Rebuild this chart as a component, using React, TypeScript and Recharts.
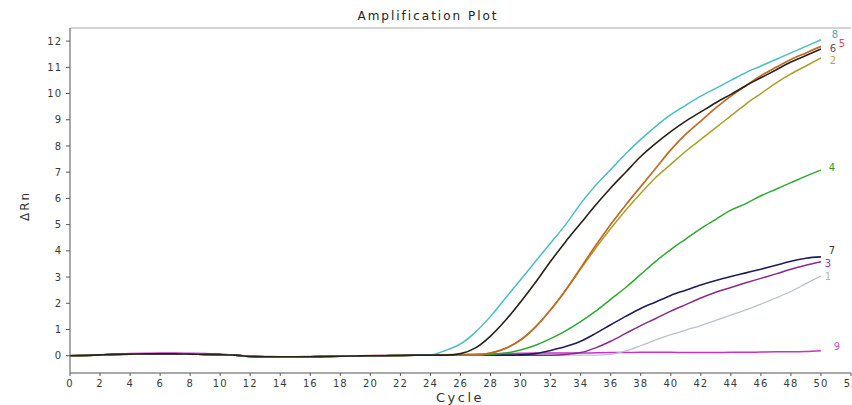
import React from 'react';
import { LineChart, Line, XAxis, YAxis, ReferenceLine } from 'recharts';

const cycles = [
  0, 1, 2, 3, 4, 5, 6, 7, 8, 9, 10, 11, 12, 13, 14, 15, 16, 17, 18, 19, 20, 21, 22, 23, 24, 25,
  26, 27, 28, 29, 30, 31, 32, 33, 34, 35, 36, 37, 38, 39, 40, 41, 42, 43, 44, 45, 46, 47, 48, 49, 50,
];

const well1 = [
  0, 0.01, 0.03, 0.05, 0.06, 0.07, 0.07, 0.07, 0.06, 0.05, 0.04, 0.02, -0.03, -0.04, -0.04, -0.04, -0.04, -0.03, -0.02, -0.01, 0, 0, 0.01, 0.02, 0.02, 0.02,
  0.02, 0.02, 0.02, 0.02, 0.02, 0.02, 0.02, 0.02, 0.02, 0.02, 0.05, 0.18, 0.38, 0.6, 0.8, 0.98, 1.15, 1.35, 1.55, 1.75, 1.97, 2.2, 2.45, 2.75, 3.04,
];
const well2 = [
  0, 0.01, 0.03, 0.05, 0.06, 0.07, 0.07, 0.07, 0.06, 0.05, 0.04, 0.02, -0.03, -0.04, -0.04, -0.04, -0.04, -0.03, -0.02, -0.01, 0, 0, 0.01, 0.02, 0.02, 0.02,
  0.02, 0.03, 0.1, 0.28, 0.6, 1.1, 1.75, 2.5, 3.3, 4.1, 4.85, 5.55, 6.2, 6.8, 7.3, 7.8, 8.25, 8.7, 9.15, 9.6, 10.0, 10.4, 10.75, 11.05, 11.36,
];
const well3 = [
  0, 0.01, 0.03, 0.05, 0.06, 0.07, 0.07, 0.07, 0.06, 0.05, 0.04, 0.02, -0.03, -0.04, -0.04, -0.04, -0.04, -0.03, -0.02, -0.01, 0, 0, 0.01, 0.02, 0.02, 0.02,
  0.02, 0.02, 0.02, 0.02, 0.02, 0.02, 0.02, 0.05, 0.12, 0.3, 0.55, 0.85, 1.15, 1.42, 1.7, 1.95, 2.2, 2.42, 2.6, 2.78, 2.95, 3.12, 3.3, 3.45, 3.58,
];
const well4 = [
  0, 0.01, 0.03, 0.05, 0.06, 0.07, 0.07, 0.07, 0.06, 0.05, 0.04, 0.02, -0.03, -0.04, -0.04, -0.04, -0.04, -0.03, -0.02, -0.01, 0, 0, 0.01, 0.02, 0.02, 0.02,
  0.02, 0.02, 0.05, 0.1, 0.22, 0.4, 0.65, 0.95, 1.3, 1.7, 2.15, 2.6, 3.1, 3.6, 4.05, 4.45, 4.85, 5.2, 5.55, 5.8, 6.1, 6.35, 6.6, 6.85, 7.08,
];
const well5 = [
  0, 0.01, 0.03, 0.05, 0.06, 0.07, 0.07, 0.07, 0.06, 0.05, 0.04, 0.02, -0.03, -0.04, -0.04, -0.04, -0.04, -0.03, -0.02, -0.01, 0, 0, 0.01, 0.02, 0.02, 0.02,
  0.02, 0.03, 0.1, 0.28, 0.6, 1.1, 1.75, 2.5, 3.35, 4.2, 5.0, 5.75, 6.45, 7.15, 7.85, 8.45, 8.95, 9.45, 9.9, 10.3, 10.68, 11.0, 11.3, 11.55, 11.8,
];
const well6 = [
  0, 0.01, 0.03, 0.05, 0.06, 0.07, 0.07, 0.07, 0.06, 0.05, 0.04, 0.02, -0.03, -0.04, -0.04, -0.04, -0.04, -0.03, -0.02, -0.01, 0, 0, 0.01, 0.02, 0.02, 0.02,
  0.08, 0.3, 0.75, 1.35, 2.05, 2.8, 3.6, 4.35, 5.05, 5.75, 6.4, 7.0, 7.6, 8.1, 8.55, 8.95, 9.3, 9.65, 9.97, 10.3, 10.6, 10.9, 11.2, 11.45, 11.7,
];
const well7 = [
  0, 0.01, 0.03, 0.05, 0.06, 0.07, 0.07, 0.07, 0.06, 0.05, 0.04, 0.02, -0.03, -0.04, -0.04, -0.04, -0.04, -0.03, -0.02, -0.01, 0, 0, 0.01, 0.02, 0.02, 0.02,
  0.02, 0.02, 0.02, 0.02, 0.03, 0.08, 0.2, 0.35, 0.55, 0.85, 1.18, 1.5, 1.8, 2.05, 2.3, 2.5, 2.7, 2.87, 3.02, 3.16, 3.3, 3.45, 3.6, 3.72, 3.77,
];
const well8 = [
  0, 0.01, 0.03, 0.05, 0.06, 0.07, 0.07, 0.07, 0.06, 0.05, 0.04, 0.02, -0.03, -0.04, -0.04, -0.04, -0.04, -0.03, -0.02, -0.01, 0, 0, 0.01, 0.02, 0.03, 0.2,
  0.45, 0.9, 1.5, 2.2, 2.9, 3.6, 4.3, 5.0, 5.8, 6.5, 7.1, 7.7, 8.25, 8.75, 9.2, 9.55, 9.9, 10.2, 10.5, 10.8, 11.05, 11.3, 11.55, 11.8, 12.05,
];
const well9 = [
  0, 0.02, 0.04, 0.06, 0.08, 0.09, 0.1, 0.1, 0.09, 0.08, 0.06, 0.03, -0.02, -0.03, -0.04, -0.04, -0.03, -0.02, -0.01, 0, 0, 0.01, 0.02, 0.02, 0.03, 0.04,
  0.05, 0.06, 0.07, 0.08, 0.09, 0.1, 0.1, 0.1, 0.1, 0.11, 0.12, 0.12, 0.13, 0.13, 0.13, 0.12, 0.12, 0.12, 0.13, 0.13, 0.14, 0.15, 0.15, 0.16, 0.19,
];

const xTicks = [0, 2, 4, 6, 8, 10, 12, 14, 16, 18, 20, 22, 24, 26, 28, 30, 32, 34, 36, 38, 40, 42, 44, 46, 48, 50, 52];
const yTicks = [0, 1, 2, 3, 4, 5, 6, 7, 8, 9, 10, 11, 12];

const series = [
  { key: 'w9', name: '9', values: well9, color: '#c832c8', labelColor: '#cc55cc', dx: 16, dy: -4, width: 1.5 },
  { key: 'w1', name: '1', values: well1, color: '#b9c2cc', labelColor: '#b5b5b5', dx: 7, dy: 0, width: 1.3 },
  { key: 'w3', name: '3', values: well3, color: '#8a2a8a', labelColor: '#8a3a8a', dx: 7, dy: 2, width: 1.5 },
  { key: 'w7', name: '7', values: well7, color: '#1e1e5a', labelColor: '#333333', dx: 11, dy: -6, width: 1.6 },
  { key: 'w4', name: '4', values: well4, color: '#2fa832', labelColor: '#2a9a2a', dx: 11, dy: -3, width: 1.5 },
  { key: 'w2', name: '2', values: well2, color: '#a8a02a', labelColor: '#b8a84a', dx: 12, dy: 3, width: 1.5 },
  { key: 'w5', name: '5', values: well5, color: '#c06a28', labelColor: '#d04a6a', dx: 21, dy: -3, width: 1.7 },
  { key: 'w8', name: '8', values: well8, color: '#4bbdc4', labelColor: '#4aa8b0', dx: 14, dy: -5, width: 1.5 },
  { key: 'w6', name: '6', values: well6, color: '#2a2118', labelColor: '#555555', dx: 12, dy: 0, width: 1.6 },
];

const data = cycles.map((c, i) => {
  const row: Record<string, number> = { cycle: c };
  series.forEach((s) => {
    row[s.key] = s.values[i];
  });
  return row;
});

const lastIndex = cycles.length - 1;

const makeEndLabel = (s: (typeof series)[number]) => (props: any) => {
  const { x, y, index } = props;
  if (index !== lastIndex) return null;
  return (
    <text
      x={x + s.dx}
      y={y + s.dy}
      dy="0.35em"
      textAnchor="middle"
      fill={s.labelColor}
      fontSize={10}
      fontFamily="DejaVu Sans, sans-serif"
    >
      {s.name}
    </text>
  );
};

const tickStyle = { fontSize: 10, fill: '#3a3a3a', fontFamily: 'DejaVu Sans, sans-serif', letterSpacing: 1 };

export default function App() {
  return (
    <div style={{ position: 'absolute', left: 0, top: 0, width: 852, height: 405, overflow: 'hidden', background: '#fff' }}>
      <div
        style={{
          position: 'absolute',
          left: 0,
          width: 856,
          top: 9,
          textAlign: 'center',
          fontFamily: 'DejaVu Sans, sans-serif',
          fontSize: 12,
          letterSpacing: 2,
          color: '#222',
          lineHeight: '14px',
        }}
      >
        Amplification Plot
      </div>
      <div
        style={{
          position: 'absolute',
          left: 25,
          top: 206,
          transform: 'translate(-50%, -50%) rotate(-90deg)',
          fontFamily: 'DejaVu Sans, sans-serif',
          fontSize: 12,
          letterSpacing: 2,
          color: '#333',
          whiteSpace: 'nowrap',
          lineHeight: '14px',
        }}
      >
        ΔRn
      </div>
      <div
        style={{
          position: 'absolute',
          left: 460,
          top: 397,
          transform: 'translate(-50%, -50%)',
          fontFamily: 'DejaVu Sans, sans-serif',
          fontSize: 13,
          letterSpacing: 2.5,
          color: '#333',
          whiteSpace: 'nowrap',
          lineHeight: '15px',
        }}
      >
        Cycle
      </div>
      <LineChart width={880} height={405} data={data} margin={{ top: 28, right: 29, left: 0, bottom: 0 }}>
        <XAxis
          dataKey="cycle"
          type="number"
          domain={[0, 52]}
          ticks={xTicks}
          interval={0}
          height={32}
          tickSize={3}
          tickMargin={4}
          axisLine={{ stroke: '#555' }}
          tickLine={{ stroke: '#555' }}
          tick={tickStyle}
        />
        <YAxis
          type="number"
          domain={[-0.66, 12.5]}
          ticks={yTicks}
          interval={0}
          allowDataOverflow
          width={70}
          tickSize={4}
          tickMargin={4}
          axisLine={{ stroke: '#555' }}
          tickLine={{ stroke: '#555' }}
          tick={tickStyle}
        />
        <ReferenceLine y={12.5} stroke="#aaa" strokeWidth={1} />
        {series.map((s) => (
          <Line
            key={s.key}
            dataKey={s.key}
            type="monotone"
            stroke={s.color}
            strokeWidth={s.width}
            dot={false}
            activeDot={false}
            isAnimationActive={false}
            label={makeEndLabel(s)}
          />
        ))}
      </LineChart>
    </div>
  );
}
